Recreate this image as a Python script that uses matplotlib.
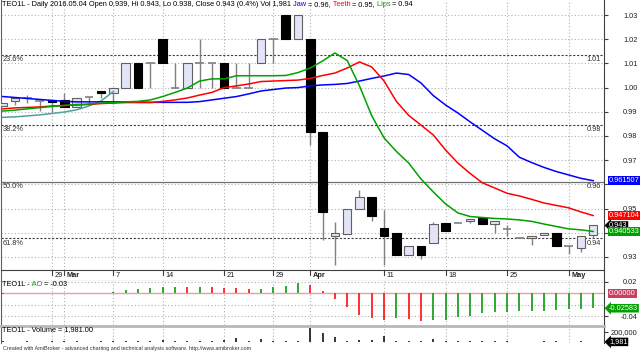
import matplotlib
matplotlib.use('Agg')
import matplotlib.pyplot as plt
import numpy as np

W, H = 640, 353
FS = 5.3
plt.rcParams['font.family'] = ['Liberation Sans', 'DejaVu Sans']

# ---- data ----
opens = [0.9924, 0.9946, 0.9958, 0.9946, 0.9949, 0.9949, 0.9919, 0.9962, 0.9987, 0.9977,
         1.0000, 1.0100, 1.0100, 1.0200, 1.0000, 1.0000, 1.0100, 1.0100, 1.0100, 1.0000,
         1.0000, 1.0100, 1.0200, 1.0300, 1.0200, 1.0200, 0.9818, 0.9388, 0.9396, 0.9497,
         0.9547, 0.9419, 0.9398, 0.9308, 0.9347, 0.9357, 0.9439, 0.9439, 0.9447, 0.9460,
         0.9436, 0.9414, 0.9377, 0.9377, 0.9390, 0.9398, 0.9347, 0.9336, 0.9390]
highs = [0.9936, 0.9956, 0.9969, 0.9946, 0.9949, 0.9976, 0.9958, 0.9962, 0.9987, 0.9997,
         1.0100, 1.0100, 1.0100, 1.0200, 1.0100, 1.0100, 1.0200, 1.0100, 1.0100, 1.0100,
         1.0100, 1.0200, 1.0200, 1.0300, 1.0300, 1.0200, 0.9818, 0.9446, 0.9498, 0.9577,
         0.9547, 0.9494, 0.9398, 0.9347, 0.9347, 0.9443, 0.9439, 0.9439, 0.9457, 0.9460,
         0.9449, 0.9432, 0.9377, 0.9388, 0.9398, 0.9398, 0.9347, 0.9387, 0.9430]
lows = [0.9924, 0.9928, 0.9936, 0.9903, 0.9900, 0.9919, 0.9919, 0.9932, 0.9956, 0.9932,
        1.0000, 1.0000, 1.0000, 1.0100, 1.0000, 1.0000, 1.0000, 1.0000, 1.0000, 1.0000,
        1.0000, 1.0100, 1.0100, 1.0200, 1.0200, 0.9763, 0.9370, 0.9267, 0.9396, 0.9497,
        0.9449, 0.9267, 0.9308, 0.9306, 0.9292, 0.9357, 0.9409, 0.9439, 0.9442, 0.9436,
        0.9398, 0.9387, 0.9377, 0.9350, 0.9390, 0.9345, 0.9311, 0.9319, 0.9380]
closes = [0.9936, 0.9956, 0.9958, 0.9946, 0.9942, 0.9919, 0.9958, 0.9962, 0.9979, 0.9997,
          1.0100, 1.0000, 1.0100, 1.0100, 1.0000, 1.0100, 1.0100, 1.0100, 1.0000, 1.0000,
          1.0000, 1.0200, 1.0200, 1.0200, 1.0300, 0.9818, 0.9487, 0.9398, 0.9498, 0.9547,
          0.9469, 0.9388, 0.9308, 0.9347, 0.9308, 0.9436, 0.9409, 0.9439, 0.9457, 0.9436,
          0.9449, 0.9414, 0.9377, 0.9388, 0.9398, 0.9345, 0.9347, 0.9387, 0.9430]

jaw = [0.9963, 0.9959, 0.9955, 0.9951, 0.9947, 0.9943, 0.9941, 0.9941, 0.9941, 0.9941,
       0.9941, 0.9941, 0.9939, 0.9939, 0.9939, 0.9939, 0.9942, 0.9949, 0.9956, 0.9963,
       0.9974, 0.9986, 0.9992, 0.9998, 1.0000, 1.0007, 1.0011, 1.0013, 1.0017, 1.0027,
       1.0038, 1.0048, 1.0060, 1.0054, 1.0019, 0.9967, 0.9928, 0.9895, 0.9858, 0.9823,
       0.9788, 0.9759, 0.9712, 0.9690, 0.9670, 0.9653, 0.9639, 0.9625, 0.961507]
teeth = [0.9912, 0.9916, 0.9918, 0.9920, 0.9924, 0.9926, 0.9928, 0.9930, 0.9934, 0.9936,
         0.9938, 0.9938, 0.9938, 0.9943, 0.9949, 0.9957, 0.9969, 0.9980, 1.0000, 1.0007,
         1.0015, 1.0025, 1.0027, 1.0029, 1.0031, 1.0038, 1.0050, 1.0060, 1.0081, 1.0106,
         1.0085, 1.0027, 0.9943, 0.9885, 0.9845, 0.9804, 0.9742, 0.9688, 0.9645, 0.9606,
         0.9585, 0.9563, 0.9552, 0.9538, 0.9523, 0.9513, 0.9503, 0.9486, 0.947104]
lips = [0.9903, 0.9907, 0.9912, 0.9917, 0.9922, 0.9926, 0.9930, 0.9932, 0.9936, 0.9938,
        0.9941, 0.9943, 0.9949, 0.9963, 0.9980, 0.9998, 1.0027, 1.0036, 1.0036, 1.0049,
        1.0049, 1.0049, 1.0049, 1.0050, 1.0062, 1.0081, 1.0110, 1.0143, 1.0112, 1.0007,
        0.9883, 0.9792, 0.9736, 0.9688, 0.9622, 0.9569, 0.9519, 0.9482, 0.9467, 0.9463,
        0.9459, 0.9457, 0.9453, 0.9447, 0.9436, 0.9426, 0.9416, 0.9412, 0.940533]
extra_ma = [0.9877, 0.9879, 0.9883, 0.9887, 0.9893, 0.9899, 0.9908, 0.9924, 0.9945, 0.9984]

ao = [-0.0010, 0.0, 0.0, 0.0, 0.0, 0.0, 0.0, 0.0, 0.0, 0.0015,
      0.0057, 0.0070, 0.0086, 0.0103, 0.0115, 0.0113, 0.0116, 0.0112, 0.0098, 0.0092,
      0.0080, 0.0082, 0.0103, 0.0126, 0.0172, 0.0144, 0.0040, -0.0098, -0.0230, -0.0374,
      -0.0431, -0.0460, -0.0431, -0.0448, -0.0475, -0.0469, -0.0460, -0.0414, -0.0391, -0.0345,
      -0.0322, -0.0316, -0.0305, -0.0303, -0.0298, -0.0288, -0.0272, -0.0268, -0.02583]
volume = [10000, 5000, 15000, 8000, 10000, 12000, 15000, 8000, 10000, 20000,
          15000, 18000, 12000, 30000, 10000, 15000, 12000, 15000, 45000, 85000,
          25000, 55000, 10000, 20000, 12000, 280000, 175000, 95000, 25000, 30000,
          30000, 110000, 15000, 15000, 15000, 50000, 20000, 12000, 10000, 12000,
          12000, 25000, 8000, 8000, 10000, 12000, 8000, 15000, 1981]

tick_idx = [4, 5, 9, 13, 18, 22, 25, 31, 36, 41, 46]
tick_lab = ['29', 'Mar', '7', '14', '21', '29', 'Apr', '11', '18', '25', 'May']

fib_hi, fib_lo = 1.0604, 0.8619
fib_pct = [23.6, 38.2, 50.0, 61.8]

GREEN = '#00a000'
n = len(closes)
x = np.arange(n)
o, h, l, c = map(np.array, (opens, highs, lows, closes))


def px_rect(x0, y0, x1, y1):
    return [x0 / W, 1 - y1 / H, (x1 - x0) / W, (y1 - y0) / H]


def tag(ax, y, txt, bg, arrow=False):
    style = 'larrow,pad=0.1' if arrow else 'square,pad=0.12'
    ax.text(1 + 5 / 603, y, txt, transform=ax.get_yaxis_transform(), fontsize=FS,
            color='white', va='center', ha='left', zorder=10,
            bbox=dict(boxstyle=style, fc=bg, ec='none'))


def right_ticks(ax, ticks, labels):
    ax.yaxis.tick_right()
    ax.set_yticks(ticks)
    ax.set_yticklabels(labels)
    ax.tick_params(axis='y', length=3, width=0.8, color='#404040', labelsize=FS,
                   pad=21, labelcolor='#202020')
    for t in ax.get_yticklabels():
        t.set_horizontalalignment('right')


def colored_text(fig, x_px, y_px, parts, size):
    r = fig.canvas.get_renderer()
    xx = x_px
    for s, col in parts:
        t = fig.text(xx / W, 1 - y_px / H, s, color=col, fontsize=size, va='center', ha='left')
        xx = t.get_window_extent(renderer=r).x1


fig = plt.figure(figsize=(6.4, 3.53), dpi=100)
xlim = (-0.146, 48.88)

# ---- main price panel ----
ax = fig.add_axes(px_rect(1, 0, 604, 270))
ax.set_xlim(*xlim)
ax.set_ylim(0.9246, 1.0362)
for s in ['top', 'bottom']:
    ax.spines[s].set_visible(False)
ax.spines['left'].set_color('#606060')
ax.spines['right'].set_color('#404040')
ax.set_xticks([])

price_ticks = np.round(np.arange(0.93, 1.031, 0.01), 2)
# 0.94 and 0.96 sit under the value tags on the right, so they stay blank
right_ticks(ax, price_ticks, ['' if v in (0.94, 0.96) else f'{v:.2f}' for v in price_ticks])
for v in price_ticks:
    ax.axhline(v, color='#b0b0b0', lw=0.8, ls=(0, (1, 2)), zorder=0)
for i in tick_idx:
    ax.axvline(i, color='#b0b0b0', lw=0.8, ls=(0, (1, 2)), zorder=0)

# fibonacci retracement levels
for p in fib_pct:
    lvl = fib_hi - p / 100 * (fib_hi - fib_lo)
    if p == 50.0:
        ax.axhline(lvl, color='#707070', lw=0.9, zorder=1)
    else:
        ax.axhline(lvl, color='#404040', lw=0.8, ls=(0, (2, 1.5)), zorder=1)
    ax.text(2 / 603, lvl - 0.0006, f'{p:.1f}%', transform=ax.get_yaxis_transform(),
            fontsize=FS, color='#303030', va='top', ha='left')
    ax.text(1 - 3 / 603, lvl - 0.0006, f'{lvl:.2f}', transform=ax.get_yaxis_transform(),
            fontsize=FS, color='#303030', va='top', ha='right')

# candles
ax.vlines(x, l, h, color='#808080', lw=1, zorder=2)
flat = np.abs(c - o) < 0.0003
up = (c > o) & ~flat
dn = (c < o) & ~flat
ax.bar(x[up], (c - o)[up], bottom=o[up], width=0.7, color='#e4e4f8',
       edgecolor='#606060', lw=0.8, zorder=3)
ax.bar(x[dn], (o - c)[dn], bottom=c[dn], width=0.7, color='black',
       edgecolor='black', lw=0.8, zorder=3)
ax.hlines(o[flat], x[flat] - 0.35, x[flat] + 0.35, color='#808080', lw=1.2, zorder=3)

# alligator lines
ax.plot(x[:len(extra_ma)], extra_ma, color='#50a0a0', lw=1.1, zorder=4)
ax.plot(x, jaw, color='#0000ff', lw=1.1, zorder=4)
ax.plot(x, teeth, color='#ff0000', lw=1.1, zorder=4)
ax.plot(x, lips, color=GREEN, lw=1.1, zorder=4)

tag(ax, jaw[-1], f'{jaw[-1]:.6f}', '#0000ff')
tag(ax, teeth[-1], f'{teeth[-1]:.6f}', '#ff0000')
tag(ax, closes[-1], f'{closes[-1]:.3f}', 'black', arrow=True)
tag(ax, lips[-1], f'{lips[-1]:.6f}', GREEN)

# ---- date row ----
axd = fig.add_axes(px_rect(1, 270, 604, 281))
axd.set_xlim(*xlim)
axd.set_ylim(0, 1)
axd.set_xticks([])
axd.set_yticks([])
for s in ['top', 'bottom']:
    axd.spines[s].set_color('#404040')
axd.spines['left'].set_color('#606060')
axd.spines['right'].set_color('#404040')
for i, lab in zip(tick_idx, tick_lab):
    axd.plot([i, i], [0.55, 0.92], color='#404040', lw=0.8)
    bold = lab.isalpha()
    axd.text(i + 0.2, 0.5, lab, fontsize=FS, va='center', ha='left',
             fontweight='bold' if bold else 'normal', color='#202020')

# ---- AO panel ----
axa = fig.add_axes(px_rect(1, 281, 604, 325))
axa.set_xlim(*xlim)
axa.set_ylim(-0.0547, 0.0212)
axa.set_xticks([])
for s in ['top', 'bottom']:
    axa.spines[s].set_visible(False)
axa.spines['left'].set_color('#606060')
axa.spines['right'].set_color('#404040')
right_ticks(axa, [0.02, -0.04], ['0.02', '-0.04'])
for v in [0.02, -0.02, -0.04]:
    axa.axhline(v, color='#b0b0b0', lw=0.8, ls=(0, (1, 2)), zorder=0)
for i in tick_idx:
    axa.axvline(i, color='#b0b0b0', lw=0.8, ls=(0, (1, 2)), zorder=0)
ao_arr = np.array(ao)
ao_col = ['#20a020' if k == 0 or ao_arr[k] >= ao_arr[k - 1] else '#ff2020' for k in range(n)]
axa.vlines(x, 0, ao_arr, colors=ao_col, lw=1.3, zorder=3)
axa.axhline(0, color='#e8a0a8', lw=1, zorder=2)
tag(axa, 0.0, '0.00000', '#c84060')
tag(axa, ao[-1], f'{ao[-1]:.5f}', GREEN, arrow=True)

# ---- volume panel ----
axv = fig.add_axes(px_rect(1, 326, 604, 343))
axv.set_xlim(*xlim)
axv.set_ylim(-19400, 310700)
axv.set_xticks([])
axv.spines['top'].set_color('#b8b8b8')
axv.spines['top'].set_linewidth(2)
axv.spines['bottom'].set_visible(False)
axv.spines['left'].set_color('#606060')
axv.spines['right'].set_color('#404040')
right_ticks(axv, [200000], ['200,000'])
for i in tick_idx:
    axv.axvline(i, color='#b0b0b0', lw=0.8, ls=(0, (1, 2)), zorder=0)
axv.vlines(x, 0, volume, color='black', lw=1.1, zorder=3)
tag(axv, volume[-1], f'{volume[-1]:,}', 'black', arrow=True)

# ---- titles ----
colored_text(fig, 2, 5, [
    ('TEO1L - Daily 2016.05.04 Open 0.939, Hi 0.943, Lo 0.938, Close 0.943 (0.4%) Vol 1,981', 'black'),
    (' Jaw', '#0000ff'), (' = 0.96,', 'black'), (' Teeth', '#ff0000'), (' = 0.95,', 'black'),
    (' Lips', GREEN), (' = 0.94', 'black')], FS)
colored_text(fig, 2, 284, [('TEO1L -', 'black'), (' AO', GREEN), (' = -0.03', 'black')], FS)
fig.text(2 / W, 1 - 329.5 / H, 'TEO1L - Volume = 1,981.00', fontsize=FS, va='center', ha='left')
fig.text(3 / W, 1 - 348.5 / H,
         'Created with AmiBroker - advanced charting and technical analysis software. http://www.amibroker.com',
         fontsize=3.9, va='center', ha='left', color='#303030')

fig.savefig('out.png', dpi=100)
